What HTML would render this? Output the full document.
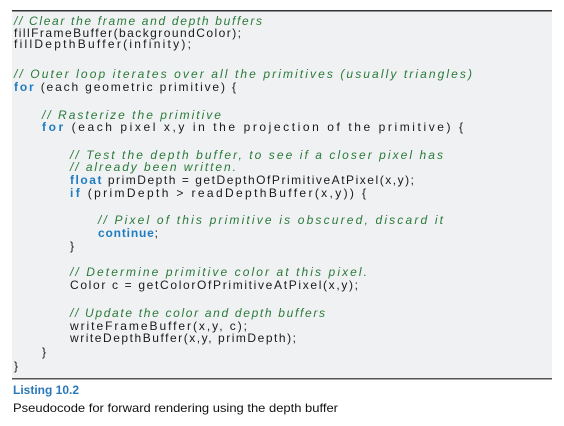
<!DOCTYPE html>
<html><head><meta charset="utf-8"><style>
html,body{margin:0;padding:0;background:#fff;}
svg{display:block;}
.c{fill:#2a7a3a;font-style:italic;}
.k{fill:#1e7cc0;font-weight:bold;}
text{font-family:"Liberation Sans",sans-serif;font-size:12px;fill:#1a1a1a;}
</style></head><body>
<svg width="564" height="426" xmlns="http://www.w3.org/2000/svg">
<rect x="12" y="10" width="540" height="369" fill="#f0f1f3"/>
<rect x="12" y="10" width="540" height="1.5" fill="#333"/>
<rect x="12" y="378" width="540" height="1.5" fill="#555"/>
<g lengthAdjust="spacing">
<text class="c" x="14" y="25" textLength="248">// Clear the frame and depth buffers</text>
<text x="14" y="37" textLength="227">fillFrameBuffer(backgroundColor);</text>
<text x="14" y="48" textLength="177">fillDepthBuffer(infinity);</text>
<text class="c" x="14" y="78" textLength="458">// Outer loop iterates over all the primitives (usually triangles)</text>
<text x="14" y="91" textLength="222"><tspan class="k">for</tspan> (each geometric primitive) {</text>
<text class="c" x="42" y="119" textLength="179">// Rasterize the primitive</text>
<text x="42" y="131" textLength="421"><tspan class="k">for</tspan> (each pixel x,y in the projection of the primitive) {</text>
<text class="c" x="70" y="159" textLength="373">// Test the depth buffer, to see if a closer pixel has</text>
<text class="c" x="70" y="171" textLength="166">// already been written.</text>
<text x="70" y="184" textLength="344"><tspan class="k">float</tspan> primDepth = getDepthOfPrimitiveAtPixel(x,y);</text>
<text x="70" y="197" textLength="296"><tspan class="k">if</tspan> (primDepth &gt; readDepthBuffer(x,y)) {</text>
<text class="c" x="98" y="224" textLength="345">// Pixel of this primitive is obscured, discard it</text>
<text x="98" y="237" textLength="60"><tspan class="k">continue</tspan>;</text>
<text x="70" y="250">}</text>
<text class="c" x="70" y="276" textLength="297">// Determine primitive color at this pixel.</text>
<text x="70" y="289" textLength="288">Color c = getColorOfPrimitiveAtPixel(x,y);</text>
<text class="c" x="70" y="317" textLength="255">// Update the color and depth buffers</text>
<text x="70" y="330" textLength="177">writeFrameBuffer(x,y, c);</text>
<text x="70" y="342" textLength="226">writeDepthBuffer(x,y, primDepth);</text>
<text x="42" y="356">}</text>
<text x="14" y="370">}</text>
</g>
<text x="13" y="394" style="font-weight:bold;fill:#2a78b8;font-size:12px">Listing 10.2</text>
<text x="13" y="412" style="font-size:12px;fill:#111" textLength="325" lengthAdjust="spacingAndGlyphs">Pseudocode for forward rendering using the depth buffer</text>
</svg>
</body></html>
